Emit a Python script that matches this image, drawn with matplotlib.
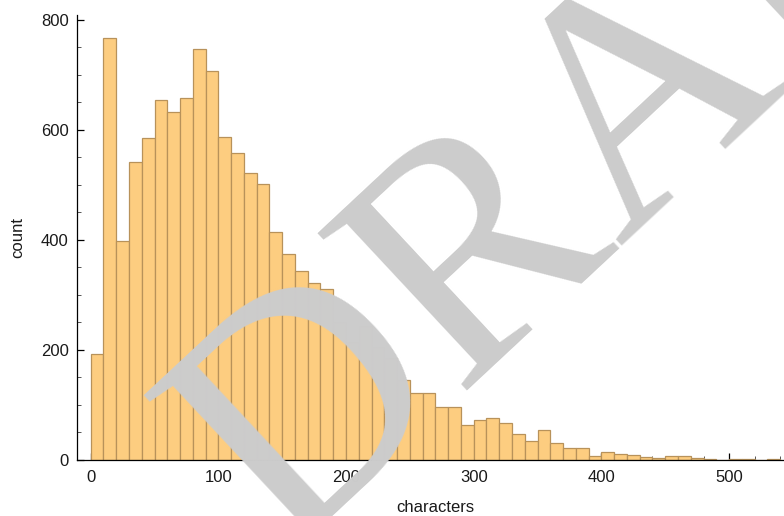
import matplotlib
matplotlib.use("Agg")
import matplotlib.pyplot as plt
from matplotlib.ticker import MultipleLocator

# bin left edges (width 10) and counts
bin_left = list(range(0, 540, 10))
counts = [193, 767, 399, 541, 586, 654, 632, 658, 748, 707,
          587, 559, 522, 502, 414, 374, 344, 321, 311, 250,
          215, 244, 205, 185, 145, 121, 121, 96, 96, 63,
          72, 76, 67, 48, 35, 54, 30, 22, 22, 8,
          14, 10, 9, 5, 4, 7, 7, 3, 1, 0,
          1, 1, 0, 1]
bin_width = 10
x_ticks = [0, 100, 200, 300, 400, 500]
y_ticks = [0, 200, 400, 600, 800]
x_label = "characters"
y_label = "count"
watermark = "DRAFT"

plt.rcParams["font.family"] = ["Liberation Sans", "DejaVu Sans"]

W, H = 784, 516
fig = plt.figure(figsize=(W / 100, H / 100), dpi=100)
ax = fig.add_axes([77 / W, 1 - 460 / H, 1 - 77 / W, (460 - 15) / H])

ax.bar(bin_left, counts, width=bin_width, align="edge",
       color="#FDCD80", edgecolor="#B8925A", linewidth=0.9, zorder=2)

ax.set_xlim(-10.7, 543)
ax.set_ylim(0, 809)

for s in ["top", "right"]:
    ax.spines[s].set_visible(False)
for s in ["left", "bottom"]:
    ax.spines[s].set_linewidth(0.9)
    ax.spines[s].set_color("#000000")
    ax.spines[s].set_zorder(3)

ax.set_xticks(x_ticks)
ax.set_yticks(y_ticks)
ax.xaxis.set_minor_locator(MultipleLocator(20))
ax.yaxis.set_minor_locator(MultipleLocator(50))
ax.tick_params(axis="both", which="major", direction="in", length=5, width=0.9,
               labelsize=12, colors="#000000", labelcolor="#1a1a1a")
ax.tick_params(axis="both", which="minor", direction="in", length=3, width=0.7,
               colors="#555555")
ax.tick_params(axis="x", which="major", pad=7)
ax.tick_params(axis="y", which="major", pad=6)

ax.set_xlabel(x_label, fontsize=12, color="#1a1a1a")
ax.set_ylabel(y_label, fontsize=12, color="#1a1a1a")
ax.xaxis.set_label_coords((435 - 77) / 707, (460 - 508) / 445)
ax.xaxis.label.set_va("center")
ax.yaxis.set_label_coords((18 - 77) / 707, 0.5)
ax.yaxis.label.set_va("center")

fig.text(679 / W, 1 - 185 / H, watermark, fontsize=238,
         family=["Liberation Serif", "DejaVu Serif"], color="#cccccc",
         rotation=43, rotation_mode="anchor", ha="center", va="baseline",
         zorder=10)

fig.savefig("out.png", dpi=100)
